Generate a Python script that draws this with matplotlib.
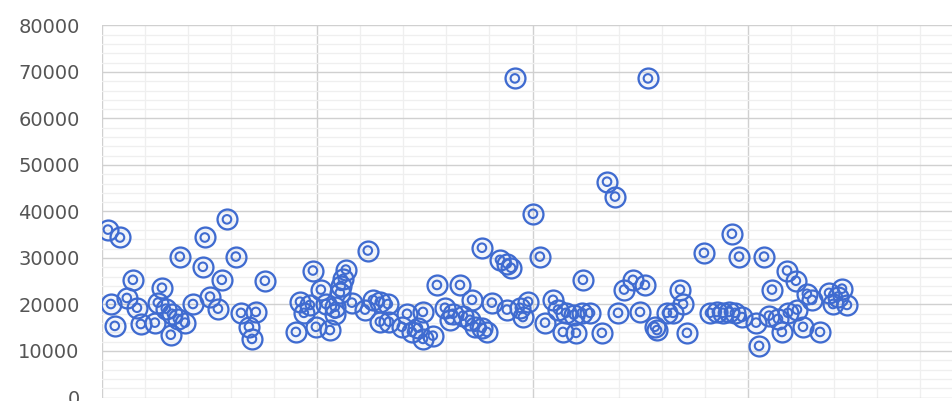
import matplotlib
matplotlib.use("Agg")
import matplotlib.pyplot as plt
from matplotlib.ticker import MultipleLocator

# values (x has no visible labels, major grid every 100)
x_vals = [2.8, 8.4, 4.2, 6.0, 11.6, 14.4, 16.3, 18.1, 24.6, 26.0,
          27.9, 29.7, 32.5, 35.3, 36.2, 38.6, 32.0, 42.3, 46.9, 47.8,
          50.2, 53.9, 55.7, 58.1, 62.2, 64.6, 68.3, 69.7, 71.5, 75.7,
          90.1, 92.0, 93.8, 96.6, 98.0, 101.7, 99.4, 104.0, 105.9, 108.2,
          108.2, 110.5, 111.0, 111.9, 113.3, 116.1, 122.2, 123.5, 125.9, 129.1,
          129.1, 132.8, 133.3, 141.7, 139.3, 144.0, 146.8, 149.1, 149.1, 153.7,
          155.6, 159.3, 161.6, 163.0, 166.3, 167.7, 170.9, 171.9, 173.2, 176.5,
          178.8, 176.5, 181.1, 184.9, 188.1, 190.0, 188.1, 191.8, 194.1, 195.5,
          197.9, 200.2, 203.4, 205.8, 209.5, 211.8, 215.5, 214.1, 219.2, 220.2,
          222.9, 223.4, 226.7, 232.2, 234.6, 238.3, 239.7, 242.5, 246.6, 252.2,
          249.9, 253.6, 256.8, 257.8, 262.4, 265.2, 268.5, 269.9, 271.7, 279.6,
          282.4, 285.6, 288.4, 291.2, 294.0, 292.6, 295.9, 297.3, 303.8, 305.2,
          307.5, 309.8, 311.2, 314.0, 315.8, 318.2, 318.6, 322.3, 322.8, 325.6,
          327.4, 329.8, 333.5, 337.7, 341.8, 343.7, 339.5, 346.0]

y_vals = [36100, 34400, 20100, 15400, 21400, 25300, 19300, 15800, 16100, 20400,
          23600, 19100, 18000, 16900, 30300, 16100, 13500, 20100, 28100, 34400,
          21700, 19100, 25300, 38300, 30300, 18200, 15200, 12600, 18400, 25100,
          14100, 20600, 18200, 19900, 27300, 23200, 15200, 20100, 14500, 19500,
          18000, 22500, 24000, 25500, 27500, 20400, 18900, 31600, 21000, 20600,
          16300, 20100, 16300, 18000, 15200, 14100, 15000, 18400, 12600, 13300,
          24200, 19300, 16700, 18000, 24200, 17600, 16700, 21000, 15200, 15000,
          14100, 32200, 20400, 29600, 28800, 27900, 18900, 68600, 19300, 17300,
          20600, 39500, 30300, 16100, 21000, 18900, 18200, 14100, 17800, 13900,
          18200, 25300, 18200, 13900, 46400, 43200, 18200, 23200, 25300, 24200,
          18400, 68600, 15200, 14500, 18200, 18200, 23200, 20100, 13900, 31100,
          18200, 18400, 18200, 18400, 18200, 35200, 30300, 17300, 16100, 11100,
          30300, 17600, 23200, 16900, 14100, 27300, 18200, 25100, 18900, 15200,
          22300, 21000, 14100, 22500, 21700, 23400, 20100, 19900]

y_ticks = [0, 10000, 20000, 30000, 40000, 50000, 60000, 70000, 80000]

blue = "#3f6bd0"

fig = plt.figure(figsize=(9.52, 4.01), dpi=100)
ax = fig.add_axes([0.107, 0.0087, 0.893, 0.928])

# double ring marker: outer ring + inner ring
ax.scatter(x_vals, y_vals, s=205, facecolors=(0.25, 0.42, 0.82, 0.06),
           edgecolors=blue, linewidths=1.65, zorder=3)
ax.scatter(x_vals, y_vals, s=38, facecolors="none",
           edgecolors=blue, linewidths=1.5, zorder=4)

ax.set_xlim(0, 394.8)
ax.set_ylim(0, 80000)
ax.set_yticks(y_ticks)
ax.set_yticklabels([str(t) for t in y_ticks])
ax.yaxis.set_minor_locator(MultipleLocator(2000))
ax.xaxis.set_major_locator(MultipleLocator(100))
ax.xaxis.set_minor_locator(MultipleLocator(20))
ax.set_xticklabels([])

ax.grid(which="major", color="#d0d0d0", linewidth=1.0, zorder=0)
ax.grid(which="minor", color="#efefef", linewidth=0.9, zorder=0)
ax.set_axisbelow(True)

for s in ax.spines.values():
    s.set_visible(False)
ax.tick_params(which="both", length=0)
ax.tick_params(axis="y", labelsize=14, labelcolor="#555555", pad=16)

fig.savefig("out.png", dpi=100)
